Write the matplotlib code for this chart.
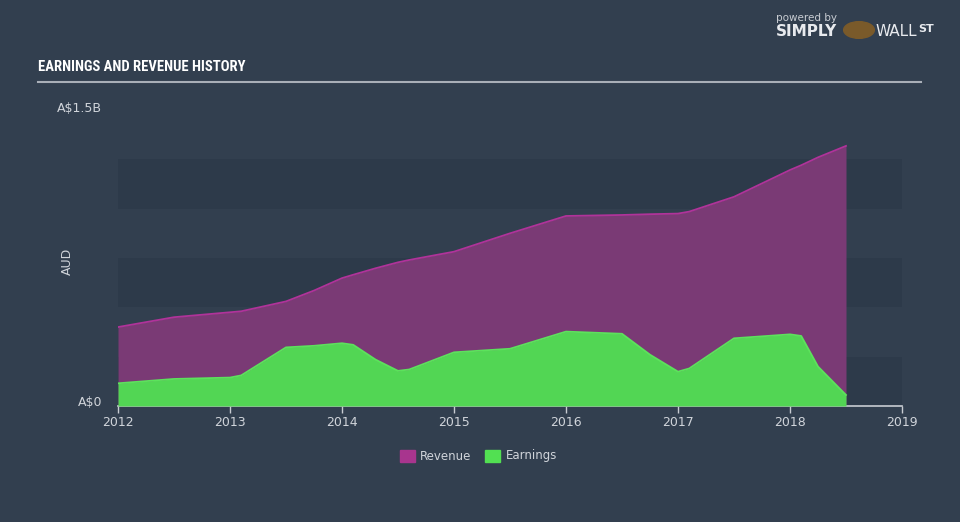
import matplotlib
matplotlib.use("Agg")
import matplotlib.pyplot as plt
from matplotlib.patches import Rectangle
from matplotlib import font_manager

# Data (values in A$ billions)
years = [2012.0, 2012.5, 2013.0, 2013.1, 2013.5, 2013.75, 2014.0, 2014.1, 2014.3, 2014.5, 2014.6,
         2015.0, 2015.5, 2016.0, 2016.5, 2016.75, 2017.0, 2017.1, 2017.5, 2018.0, 2018.1, 2018.25, 2018.5]
revenue = [0.40, 0.45, 0.475, 0.48, 0.53, 0.585, 0.648, 0.665, 0.698, 0.728, 0.740,
           0.782, 0.875, 0.963, 0.968, 0.972, 0.975, 0.985, 1.06, 1.196, 1.22, 1.26, 1.318]
earnings = [0.115, 0.137, 0.144, 0.155, 0.297, 0.305, 0.318, 0.31, 0.235, 0.178, 0.185,
            0.272, 0.29, 0.377, 0.366, 0.26, 0.174, 0.19, 0.343, 0.363, 0.355, 0.20, 0.056]
xticks = [2012, 2013, 2014, 2015, 2016, 2017, 2018, 2019]
series_names = ["Revenue", "Earnings"]

BG = "#323f4f"
BAND = "#2d3a4a"
REV_FILL = "#7a3a75"
REV_LINE = "#b0339a"
EARN_FILL = "#52d654"
EARN_LINE = "#5ce25c"
TXT = "#d0d4da"

available = {f.name for f in font_manager.fontManager.ttflist}
title_font = None
for cand in ["Liberation Sans Narrow", "DejaVu Sans Condensed", "Roboto Condensed", "Open Sans Condensed"]:
    if cand in available:
        title_font = cand
        break
if title_font is None:
    title_font = "Roboto" if "Roboto" in available else "DejaVu Sans"
    title_size = 9.5
else:
    title_size = 10.5

fig = plt.figure(figsize=(9.6, 5.22), dpi=100, facecolor=BG)
ax = fig.add_axes([118/960, 116/522, 784/960, 296/522])
ax.set_facecolor(BG)
ax.set_xlim(2012, 2019)
ax.set_ylim(0, 1.5)

for lo in (0.0, 0.5, 1.0):
    ax.axhspan(lo, lo + 0.25, color=BAND, zorder=0, lw=0)

ax.fill_between(years, revenue, 0, color=REV_FILL, lw=0, zorder=1)
ax.plot(years, revenue, color=REV_LINE, lw=1.3, zorder=2)
ax.fill_between(years, earnings, 0, color=EARN_FILL, lw=0, zorder=3)
ax.plot(years, earnings, color=EARN_LINE, lw=1.3, zorder=4)

for s in ("top", "right", "left"):
    ax.spines[s].set_visible(False)
ax.spines["bottom"].set_color("#c8ccd2")
ax.spines["bottom"].set_linewidth(1.2)
ax.set_xticks(xticks)
ax.set_xticklabels([str(t) for t in xticks], color=TXT, fontsize=9)
ax.tick_params(axis="x", colors="#c8ccd2", length=5, width=1, pad=2, labelcolor=TXT)
ax.set_yticks([])

fig.text(102/960, 1 - 108/522, "A$1.5B", color=TXT, fontsize=9, ha="right", va="center")
fig.text(102/960, 1 - 403/522, "A$0", color=TXT, fontsize=9, ha="right", va="center")
fig.text(67/960, 1 - 261/522, "AUD", color=TXT, fontsize=9, ha="center", va="center", rotation=90)

# Title
fig.text(38/960, 1 - 67/522, "EARNINGS AND REVENUE HISTORY", color="white", fontsize=title_size,
         fontweight="bold", family=[title_font, "DejaVu Sans"], ha="left", va="center")
fig.add_artist(plt.Line2D([38/960, 921/960], [1 - 82/522, 1 - 82/522], color="#a9afb8", lw=1.5))

# Logo texts
fig.text(776/960, 1 - 18/522, "powered by", color="#c8ccd2", fontsize=7.5, ha="left", va="center")
fig.text(776/960, 1 - 32/522, "SIMPLY", color="#e8eaee", fontsize=11, fontweight="bold", ha="left", va="center")
fig.text(876/960, 1 - 32/522, "WALL", color="#e8eaee", fontsize=11, ha="left", va="center")
fig.text(918/960, 1 - 29/522, "ST", color="#e8eaee", fontsize=8, fontweight="bold", ha="left", va="center")
fig.add_artist(plt.Circle((859/960, 1 - 30/522), 0.016, color="#7a5a2a", transform=fig.transFigure))

# Legend
leg_y = 1 - 456/522
fig.add_artist(Rectangle((400/960, leg_y - 6/522), 15/960, 12/522, color="#a8358e", transform=fig.transFigure))
fig.text(420/960, leg_y, series_names[0], color=TXT, fontsize=8.5, ha="left", va="center")
fig.add_artist(Rectangle((485/960, leg_y - 6/522), 15/960, 12/522, color="#52e052", transform=fig.transFigure))
fig.text(506/960, leg_y, series_names[1], color=TXT, fontsize=8.5, ha="left", va="center")

fig.savefig("out.png", dpi=100, facecolor=BG)
